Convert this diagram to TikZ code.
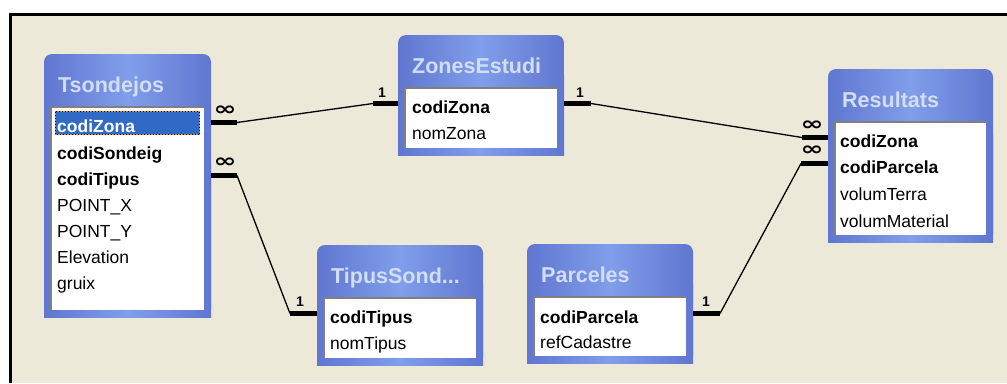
\documentclass[tikz,border=0pt]{standalone}
\usepackage{fontspec}
\setmainfont{Liberation Sans}
\newfontfamily\symfont{DejaVu Sans}
\definecolor{bg}{HTML}{ECE9D8}
\definecolor{tbledge}{HTML}{6076D0}
\definecolor{tblmid}{HTML}{809EEA}
\definecolor{ttl}{HTML}{D2DDF6}
\definecolor{sel}{HTML}{316AC5}
\definecolor{inset}{HTML}{808080}
\definecolor{focus}{HTML}{C89030}
\tikzset{
 tblbox/.style={draw=none, inner sep=0, outer sep=0},
 tblshade/.style={left color=tbledge, right color=tbledge, middle color=tblmid},
 tbltitle/.style={inner sep=0, text=ttl, font=\fontsize{21.5}{21.5}\selectfont\bfseries},
 listbox/.style={fill=white, inner sep=0, outer sep=0},
 field/.style={inner sep=0, anchor=base west, text height=19, text depth=0, font=\fontsize{17.5}{17.5}\selectfont},
 key/.style={field, font=\fontsize{17.5}{17.5}\selectfont\bfseries},
 stub/.style={line width=4.5, line cap=butt},
 rel/.style={line width=1.3},
 many/.style={inner sep=0, font=\symfont\bfseries\fontsize{19}{19}\selectfont},
 one/.style={inner sep=0, font=\bfseries\fontsize{14}{14}\selectfont},
}
\newcommand{\inftymark}{\scalebox{1.45}[1.0]{∞}}
\newcommand{\dbtable}[6]{%
 \node[tblbox, minimum width=#4, minimum height=#5, anchor=north west] (#1) at (#2,#3) {};
 \shade[tblshade, rounded corners=8] (#1.north west) rectangle (#1.south east);
 \shade[tblshade] ([yshift=20]#1.west) rectangle (#1.south east);
 \node[tbltitle, anchor=base west] (#1-t) at (#2+14,#3+38) {#6};
 \node[listbox, minimum width=#4-14, minimum height=#5-60, anchor=north west] (#1-l) at (#2+7,#3+53) {};
 \draw[inset, line width=1.5] (#1-l.south west) -- (#1-l.north west) -- (#1-l.north east);
}
\begin{document}
\begin{tikzpicture}[x=1pt,y=-1pt]
\useasboundingbox (0,0) rectangle (1007,383);
\fill[white] (0,0) rectangle (1007,383);
\fill[bg] (9,13) rectangle (1007,383);
\draw[line width=3] (10.5,383) -- (10.5,14.5) -- (1007,14.5);

% tables
\dbtable{ts}{44}{54}{167}{263}{Tsondejos}
\dbtable{ze}{398}{35}{166}{120}{ZonesEstudi}
\dbtable{re}{828}{69}{165}{173}{Resultats}
\dbtable{tp}{317}{245}{166}{120}{TipusSond...}
\dbtable{pa}{527}{244}{166}{119}{Parceles}

% selected row
\fill[sel] (55,111) rectangle (200,135);
\draw[focus, line width=1] (55.5,111.5) rectangle (199.5,134.5);
\draw[black, line width=1, dotted] (55.5,111.5) rectangle (199.5,134.5);

% fields
\node[key, text=white] (ts-zona) at (57,132) {codiZona};
\node[key] (ts-sond) at (57,159) {codiSondeig};
\node[key] (ts-tip) at (57,185) {codiTipus};
\node[field] (ts-px) at (57,211) {POINT\_X};
\node[field] (ts-py) at (57,237) {POINT\_Y};
\node[field] (ts-el) at (57,263) {Elevation};
\node[field] (ts-gr) at (57,289) {gruix};

\node[key] (ze-zona) at (412,113) {codiZona};
\node[field] (ze-nom) at (412,139) {nomZona};

\node[key] (re-zona) at (840,147) {codiZona};
\node[key] (re-parc) at (840,173) {codiParcela};
\node[field] (re-vt) at (840,200) {volumTerra};
\node[field] (re-vm) at (840,227) {volumMaterial};

\node[key] (tp-tip) at (330,323) {codiTipus};
\node[field] (tp-nom) at (330,349) {nomTipus};

\node[key] (pa-parc) at (540,323) {codiParcela};
\node[field] (pa-ref) at (540,348) {refCadastre};

% relationships
\draw[stub] (ts.east |- ts-zona) -- ++(26,0) coordinate (r1a);
\draw[stub] (ze.west |- ze-zona) -- ++(-25,0) coordinate (r1b);
\draw[rel] (r1a) -- (r1b);
\node[many] (r1m) at ([xshift=14,yshift=12]ts.east |- ts-zona) {\inftymark};
\node[one] (r1o) at ([xshift=-16,yshift=11]ze.west |- ze-zona) {1};

\draw[stub] (ts.east |- ts-tip) -- ++(26,0) coordinate (r2a);
\draw[stub] (tp.west |- tp-tip) -- ++(-27,0) coordinate (r2b);
\draw[rel] (r2a) -- (r2b);
\node[many] (r2m) at ([xshift=14,yshift=13]ts.east |- ts-tip) {\inftymark};
\node[one] (r2o) at ([xshift=-17,yshift=12]tp.west |- tp-tip) {1};

\draw[stub] (ze.east |- ze-zona) -- ++(27,0) coordinate (r3a);
\draw[stub] (re.west |- re-zona) -- ++(-26,0) coordinate (r3b);
\draw[rel] (r3a) -- (r3b);
\node[one] (r3o) at ([xshift=16,yshift=11]ze.east |- ze-zona) {1};
\node[many] (r3m) at ([xshift=-16,yshift=12]re.west |- re-zona) {\inftymark};

\draw[stub] (pa.east |- pa-parc) -- ++(27,0) coordinate (r4a);
\draw[stub] (re.west |- re-parc) -- ++(-27,0) coordinate (r4b);
\draw[rel] (r4a) -- (r4b);
\node[one] (r4o) at ([xshift=13,yshift=12]pa.east |- pa-parc) {1};
\node[many] (r4m) at ([xshift=-16,yshift=13]re.west |- re-parc) {\inftymark};
\end{tikzpicture}
\end{document}
